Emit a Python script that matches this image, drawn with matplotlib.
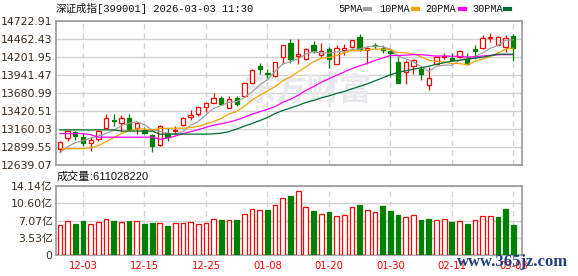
import matplotlib
matplotlib.use('Agg')
import matplotlib.pyplot as plt
from matplotlib.patches import Rectangle

# ---------------- data ----------------
dates = ['11-28', '12-01', '12-02', '12-03', '12-04', '12-05', '12-08', '12-09', '12-10', '12-11',
         '12-12', '12-15', '12-16', '12-17', '12-18', '12-19', '12-22', '12-23', '12-24', '12-25',
         '12-26', '12-29', '12-30', '12-31', '01-05', '01-06', '01-07', '01-08', '01-09', '01-12',
         '01-13', '01-14', '01-15', '01-16', '01-19', '01-20', '01-21', '01-22', '01-23', '01-26',
         '01-27', '01-28', '01-29', '01-30', '02-02', '02-03', '02-04', '02-05', '02-06', '02-09',
         '02-10', '02-11', '02-12', '02-13', '02-24', '02-25', '02-26', '02-27', '03-02', '03-03']

opens = [12871, 13031, 13122, 13050, 12958, 13016, 13176, 13293, 13249, 13322,
         13176, 13151, 13074, 12929, 13098, 13133, 13220, 13330, 13380, 13476,
         13534, 13603, 13467, 13613, 13642, 13825, 14078, 13971, 13923, 14195,
         14398, 14214, 14166, 14374, 14233, 14311, 14107, 14308, 14349, 14486,
         14301, 14374, 14334, 14286, 14131, 13985, 14078, 14035, 13802, 14107,
         14203, 14189, 14195, 14189, 14316, 14326, 14483, 14374, 14340, 14505]
closes = [12977, 13137, 13064, 12958, 13002, 13137, 13322, 13272, 13316, 13162,
          13249, 13108, 12909, 13200, 13039, 13151, 13322, 13360, 13476, 13534,
          13603, 13525, 13592, 13525, 13825, 14020, 14029, 13962, 14126, 14374,
          14174, 14243, 14311, 14286, 14291, 14166, 14326, 14333, 14446, 14316,
          14334, 14359, 14301, 14257, 13825, 14131, 14155, 13952, 13904, 14195,
          14218, 14155, 14286, 14097, 14291, 14471, 14494, 14490, 14471, 14326]
highs = [12991, 13151, 13130, 13098, 13039, 13144, 13380, 13380, 13365, 13380,
         13268, 13195, 13093, 13220, 13176, 13205, 13333, 13438, 13486, 13544,
         13680, 13632, 13642, 13632, 13835, 14024, 14116, 14029, 14134, 14381,
         14461, 14461, 14326, 14432, 14398, 14340, 14369, 14388, 14454, 14534,
         14345, 14407, 14374, 14301, 14195, 14155, 14170, 14058, 14058, 14218,
         14262, 14262, 14301, 14262, 14374, 14519, 14544, 14512, 14519, 14529]
lows = [12821, 12981, 13002, 12909, 12846, 12991, 13162, 13210, 13122, 13141,
        13089, 13093, 12831, 12919, 12991, 13074, 13210, 13293, 13341, 13403,
        13530, 13515, 13464, 13496, 13639, 13821, 13952, 13904, 13915, 14107,
        14122, 14107, 14163, 14262, 14195, 14049, 14105, 14228, 14326, 14286,
        14107, 14311, 14253, 13923, 13821, 13816, 13962, 13864, 13726, 14097,
        14166, 14145, 14192, 14093, 14180, 14323, 14422, 14370, 14276, 14141]

ma5 = [12817, 12904, 12962, 12991, 13028, 13060, 13096, 13138, 13210, 13242,
       13264, 13221, 13149, 13125, 13101, 13082, 13124, 13214, 13269, 13368,
       13459, 13499, 13546, 13556, 13614, 13697, 13799, 13872, 13992, 14102,
       14134, 14176, 14246, 14278, 14262, 14259, 14276, 14281, 14313, 14317,
       14350, 14358, 14352, 14314, 14215, 14174, 14134, 14064, 13994, 14067,
       14084, 14084, 14151, 14190, 14209, 14260, 14329, 14369, 14444, 14451]
ma10 = [12875, 12875, 12875, 12875, 12890, 12919, 12977, 13035, 13093, 13134,
        13162, 13159, 13143, 13168, 13170, 13172, 13172, 13181, 13197, 13234,
        13269, 13312, 13380, 13413, 13491, 13578, 13649, 13709, 13774, 13857,
        13915, 13987, 14058, 14135, 14182, 14196, 14225, 14263, 14295, 14289,
        14304, 14317, 14316, 14313, 14266, 14262, 14246, 14208, 14154, 14141,
        14129, 14109, 14107, 14091, 14138, 14171, 14206, 14260, 14317, 14330]
ma20 = [13093, 13093, 13093, 13093, 13079, 13042, 13042, 13042, 13042, 13042,
        13042, 13042, 13042, 13013, 13028, 13057, 13093, 13122, 13151, 13184,
        13216, 13235, 13261, 13290, 13330, 13375, 13410, 13445, 13485, 13546,
        13592, 13649, 13719, 13774, 13836, 13887, 13937, 13986, 14035, 14073,
        14110, 14152, 14187, 14224, 14224, 14229, 14236, 14236, 14225, 14215,
        14217, 14213, 14212, 14202, 14202, 14217, 14226, 14234, 14236, 14236]
ma30 = [13147, 13147, 13147, 13147, 13147, 13147, 13147, 13147, 13130, 13130,
        13130, 13130, 13130, 13086, 13086, 13086, 13086, 13086, 13086, 13086,
        13089, 13101, 13122, 13159, 13202, 13239, 13282, 13326, 13384, 13428,
        13464, 13501, 13544, 13573, 13610, 13639, 13675, 13704, 13741, 13777,
        13814, 13857, 13901, 13944, 13981, 14003, 14025, 14046, 14068, 14097,
        14119, 14141, 14155, 14170, 14185, 14199, 14221, 14243, 14243, 14243]

volumes = [6.1, 6.9, 6.4, 7.0, 6.3, 6.7, 7.3, 7.0, 6.7, 7.0,
           6.9, 6.4, 6.6, 6.5, 5.95, 6.5, 6.5, 6.7, 6.3, 6.5,
           7.3, 7.2, 7.1, 7.2, 8.4, 9.4, 9.2, 9.25, 10.2, 11.65,
           12.1, 13.15, 9.8, 9.05, 8.35, 8.8, 7.95, 8.1, 9.8, 10.3,
           9.25, 8.8, 10.1, 9.05, 8.2, 7.75, 8.15, 7.2, 7.4, 7.1,
           7.3, 6.8, 6.9, 6.4, 7.1, 7.95, 7.95, 7.8, 9.45, 6.11]

price_ticks = [12639.07, 12899.55, 13160.03, 13420.51, 13680.99,
               13941.47, 14201.95, 14462.43, 14722.91]
vol_ticks = [0, 3.53, 7.07, 10.60, 14.14]
vol_tick_labels = ['0', '3.53亿', '7.07亿', '10.60亿', '14.14亿']
label_dates = ['12-03', '12-15', '12-25', '01-08', '01-20', '01-30', '02-11', '03-03']
legend_names = ['5PMA', '10PMA', '20PMA', '30PMA']
title_cn = '深证成指'
title_rest = '[399001] 2026-03-03 11:30'
vol_cn = '成交量'
vol_rest = ':611028220'

# ---------------- style ----------------
W, H = 578, 276
RED = '#ff0000'
GREEN = '#008000'
MA_COLORS = ['#a0a0a0', '#f5a300', '#ff00ff', '#006b2e']
GRID = '#d2d2d2'
FRAME = '#9a9a9a'
LABEL = '#3a2a1a'

fig = plt.figure(figsize=(W / 100, H / 100), dpi=100)
fig.patch.set_facecolor('white')

L, R = 55.5, 522
ax = fig.add_axes([L / W, 1 - 165 / H, (R - L) / W, 144 / H])
axv = fig.add_axes([L / W, 1 - 255 / H, (R - L) / W, 69 / H])

xs = list(range(len(dates)))
xlim = (-0.58, 60.13)
tick_pos = [dates.index(d) for d in label_dates]

for a in (ax, axv):
    a.set_xlim(*xlim)
    for s in a.spines.values():
        s.set_color(FRAME)
        s.set_linewidth(1.2)
    a.set_xticks(tick_pos)
    a.tick_params(axis='both', length=0)
    for p in tick_pos:
        a.axvline(p, color=GRID, lw=1, ls=(0, (4, 3)), zorder=0.5)

# main panel
ax.set_ylim(price_ticks[0], price_ticks[-1])
ax.set_yticks(price_ticks)
ax.set_yticklabels([f'{v:.2f}' for v in price_ticks], color=LABEL,
                   fontsize=7.8, family='DejaVu Sans')
ax.tick_params(axis='y', pad=2)
ax.set_xticklabels([])
for v in price_ticks:
    ax.axhline(v, color=GRID, lw=1, zorder=0.5)

ax.text(307 / W, 1 - 92 / H, '东方财富', transform=fig.transFigure,
        fontsize=23, family='Noto Sans CJK SC', fontweight='bold',
        color='#e8e8ee', ha='center', va='center', zorder=0.6)

bw = 0.56
for i in xs:
    o, c, h, l = opens[i], closes[i], highs[i], lows[i]
    up = c >= o
    col = RED if up else GREEN
    ax.plot([i, i], [l, h], color=col, lw=0.9, zorder=2, solid_capstyle='butt')
    bottom = min(o, c)
    height = max(abs(c - o), 6)
    ax.add_patch(Rectangle((i - bw / 2, bottom), bw, height,
                           facecolor='white' if up else GREEN,
                           edgecolor=col, lw=0.9, zorder=3))

for ma, colr in zip([ma5, ma10, ma20, ma30], MA_COLORS):
    ax.plot(xs, ma, color=colr, lw=0.9, zorder=4)

# volume panel
axv.set_ylim(0, vol_ticks[-1])
axv.set_yticks(vol_ticks)
axv.set_yticklabels(vol_tick_labels, color=LABEL, fontsize=7.8,
                    family=['DejaVu Sans', 'Noto Sans CJK SC'])
axv.tick_params(axis='y', pad=2)
for v in vol_ticks:
    axv.axhline(v, color=GRID, lw=1, zorder=0.5)
axv.set_xticklabels(label_dates, color=RED, fontsize=7.2, family='DejaVu Sans')
axv.tick_params(axis='x', pad=4)

vw = 0.62
for i in xs:
    prev = closes[i - 1] if i > 0 else opens[i]
    up = closes[i] >= prev
    col = RED if up else GREEN
    axv.add_patch(Rectangle((i - vw / 2, 0), vw, volumes[i],
                            facecolor='white' if up else GREEN,
                            edgecolor=col, lw=0.9, zorder=3))

# titles / legend
fig.text(56 / W, 1 - 8.5 / H, title_cn, fontsize=7.6, family='Noto Sans CJK SC',
         color='#111111', ha='left', va='center')
fig.text(97 / W, 1 - 8.5 / H, title_rest, fontsize=7.6, family='Liberation Mono',
         color='#111111', ha='left', va='center')

leg_x = [338, 379, 425, 472]
dash_x = [365, 413, 460, 505]
for name, lx, dx, colr in zip(legend_names, leg_x, dash_x, MA_COLORS):
    fig.text(lx / W, 1 - 8.5 / H, name, fontsize=7.4, family='Liberation Mono',
             color='#111111', ha='left', va='center')
    fig.add_artist(plt.Line2D([dx / W, (dx + 5) / W], [1 - 8.5 / H, 1 - 8.5 / H],
                              color=colr, lw=3, transform=fig.transFigure))

fig.text(57 / W, 1 - 177 / H, vol_cn, fontsize=8, family='Noto Sans CJK SC',
         color='#111111', ha='left', va='center')
fig.text(90 / W, 1 - 177 / H, vol_rest, fontsize=8, family='Liberation Sans',
         color='#111111', ha='left', va='center')

fig.text(513 / W, 1 - 262 / H, 'www.365jz.com', fontsize=12, family='Liberation Serif',
         fontweight='bold', color='#1f3f80', ha='center', va='center')

fig.savefig('out.png', dpi=100)
